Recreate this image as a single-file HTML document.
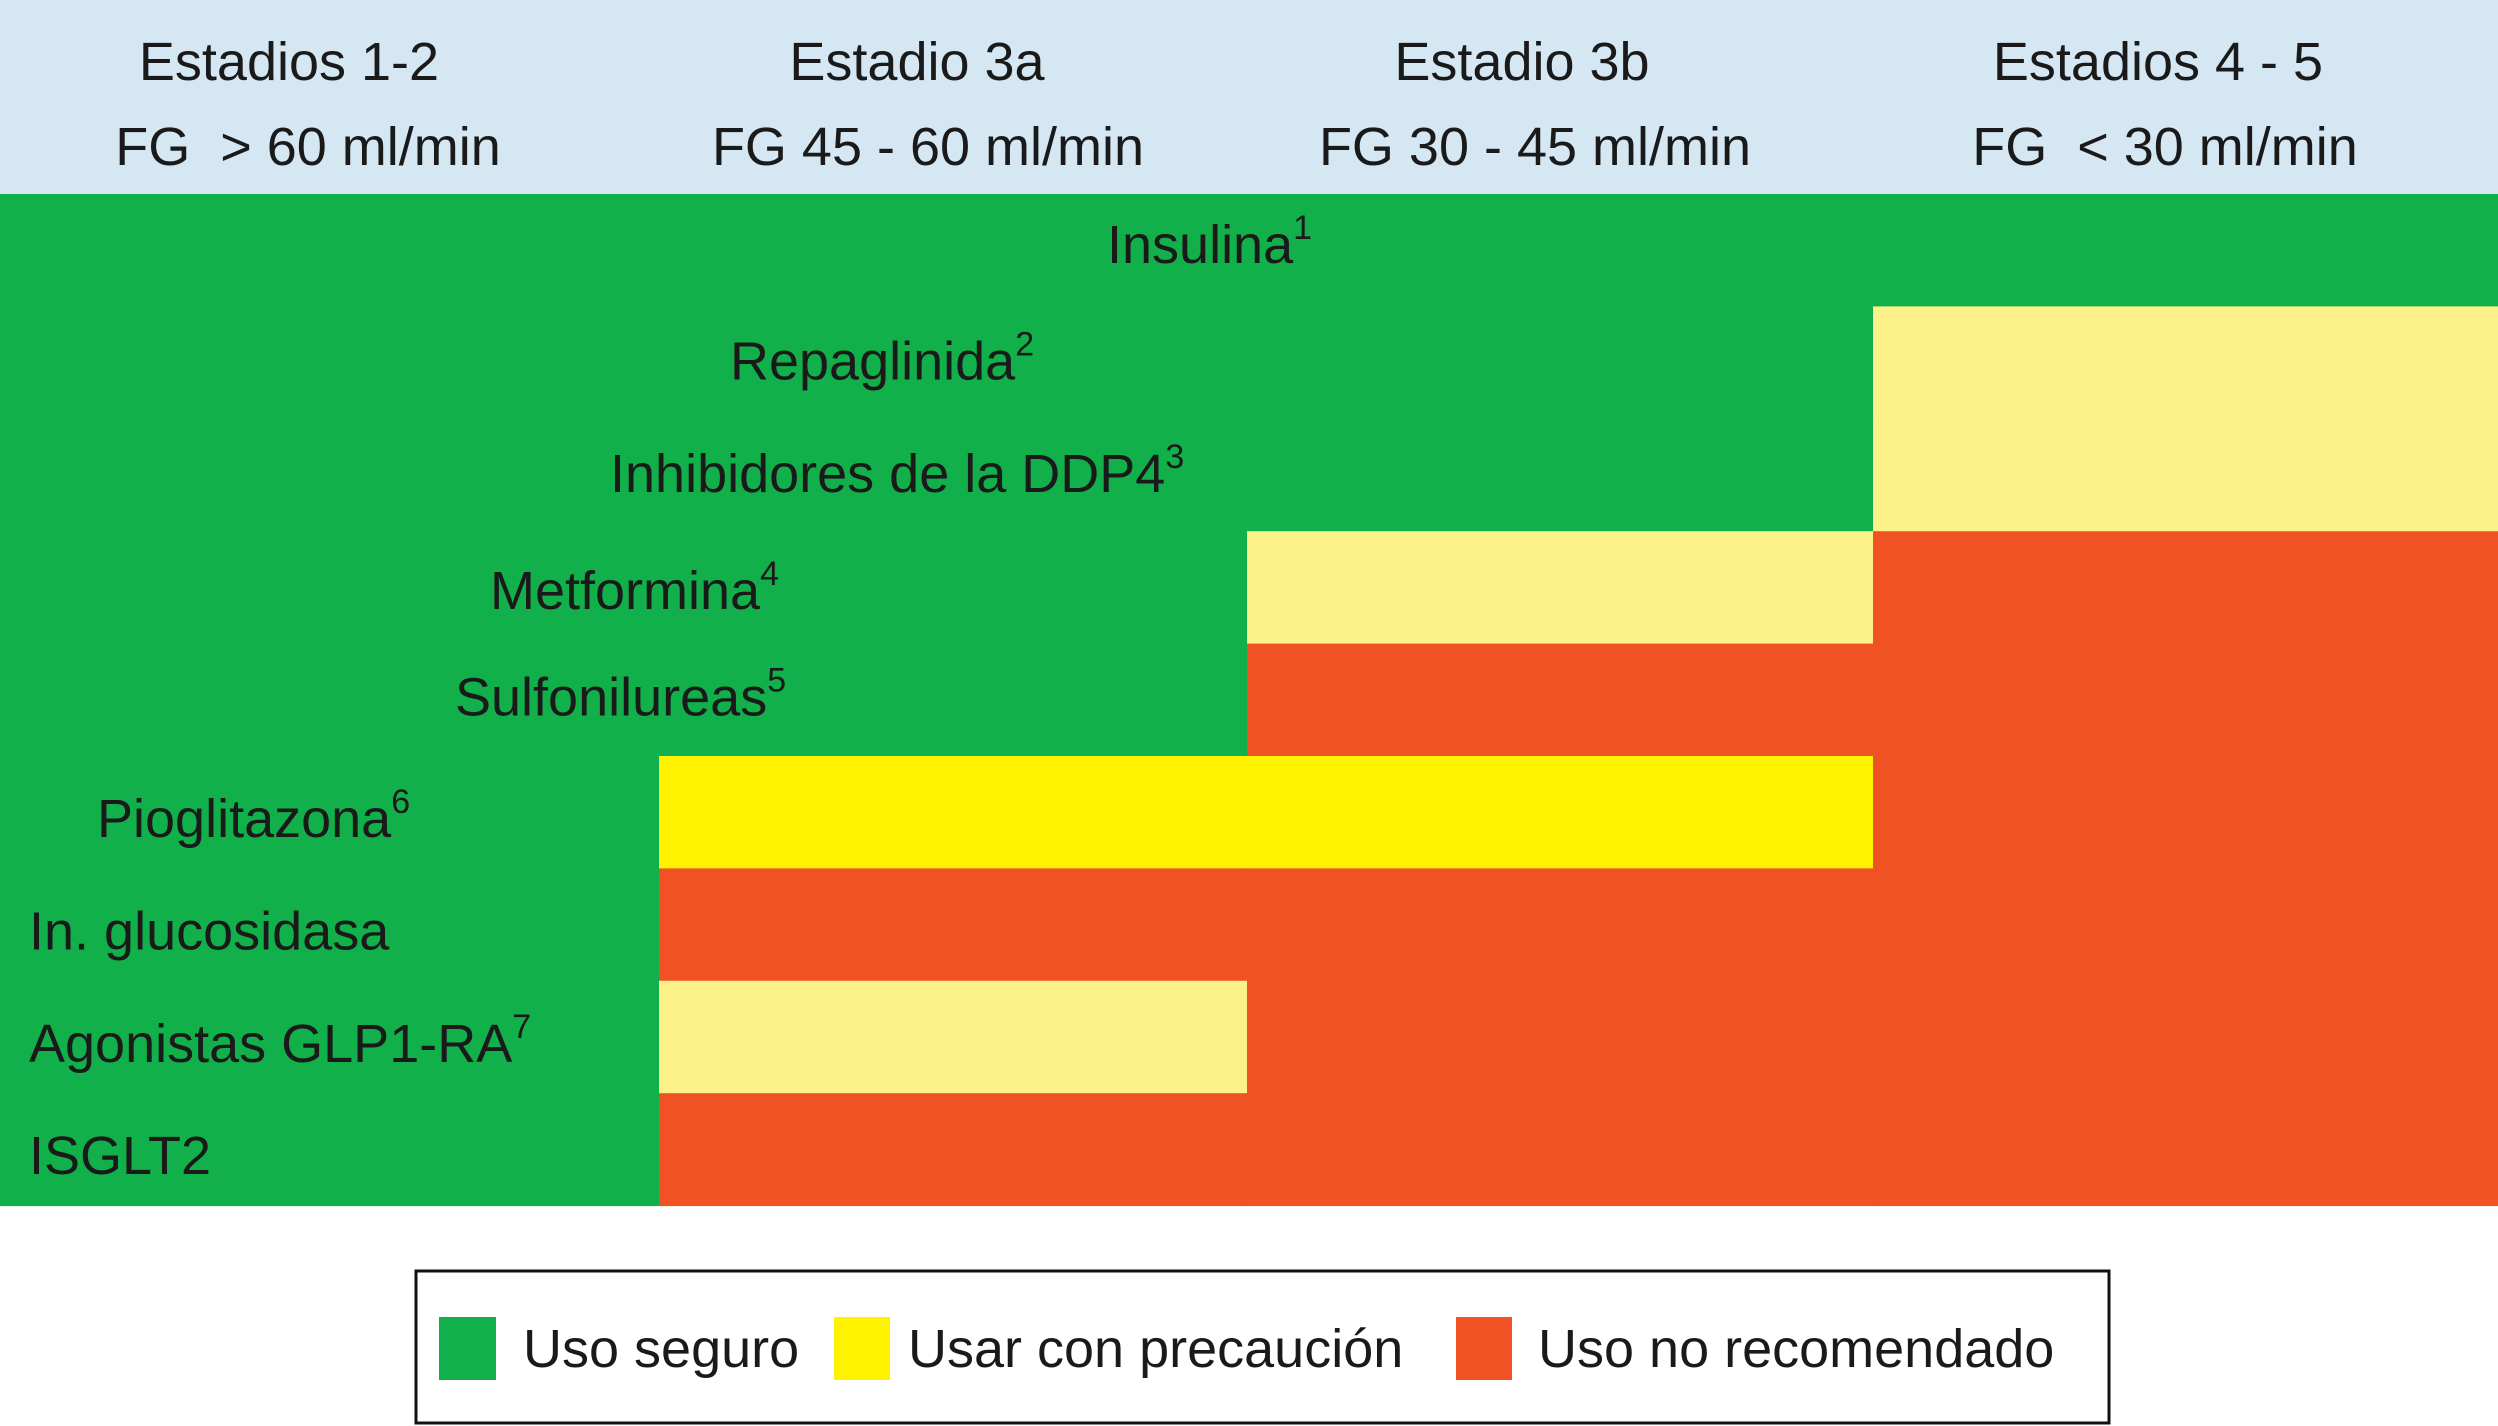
<!DOCTYPE html>
<html><head><meta charset="utf-8"><style>
html,body{margin:0;padding:0;background:#fff;}
svg{display:block;font-family:"Liberation Sans",Arial,sans-serif;}
text{white-space:pre;}
</style></head><body>
<svg id="chart" width="2498" height="1426" viewBox="0 0 2498 1426" xmlns="http://www.w3.org/2000/svg">
<rect x="0" y="0" width="2498" height="194" fill="#d5e7f3"/>
<g id="header"></g>
<g id="cells"></g>
<g id="labels"></g>
<g>
<rect x="416" y="1271" width="1693" height="152" fill="#fff" stroke="#111" stroke-width="3"/>
<rect x="439" y="1317" width="57" height="63" fill="#12b04b"/>
<text x="523" y="1367" font-size="54" fill="#1a1a1a">Uso seguro</text>
<rect x="834" y="1317" width="56" height="63" fill="#fff200"/>
<text x="908" y="1367" font-size="54" fill="#1a1a1a">Usar con precaución</text>
<rect x="1456" y="1317" width="56" height="63" fill="#f05224"/>
<text x="1538" y="1367" font-size="54" fill="#1a1a1a">Uso no recomendado</text>
</g>
</svg>
<script>
const stages = ["Estadios 1-2","Estadio 3a","Estadio 3b","Estadios 4 - 5"];
const stageRanges = ["FG  > 60 ml/min","FG 45 - 60 ml/min","FG 30 - 45 ml/min","FG  < 30 ml/min"];
const drugs = ["Insulina","Repaglinida","Inhibidores de la DDP4","Metformina","Sulfonilureas","Pioglitazona","In. glucosidasa","Agonistas GLP1-RA","ISGLT2"];
const footnotes = ["1","2","3","4","5","6","","7",""];
// G = safe, P = caution (pale), Y = caution, R = not recommended
const statusRows = [
 ["G","G","G","G"],
 ["G","G","G","P"],
 ["G","G","G","P"],
 ["G","G","P","R"],
 ["G","G","R","R"],
 ["G","Y","Y","R"],
 ["G","R","R","R"],
 ["G","P","R","R"],
 ["G","R","R","R"]
];
const NS="http://www.w3.org/2000/svg";
const colors={G:"#12b04b",P:"#fdf28a",Y:"#fff200",R:"#f05224"};
const colEdges=[0,659,1247,1873,2498];
const top0=194, rowH=112.4;
const labelX=[1107,730,610,490,455,97,29,29,29];
const labelDy=[69,73,73,78,72,81,81,81,81];
function xCol(i){return colEdges[i];}
function yRow(r){return top0+r*rowH;}
const hg=document.getElementById('header'), cg=document.getElementById('cells'), lg=document.getElementById('labels');
const h1c=[289,917,1522,2158], h2c=[308,928,1535,2165];
stages.forEach((s,i)=>{
 const t=document.createElementNS(NS,'text');
 
 
 t.setAttribute('x',h1c[i]);t.setAttribute('y',80);t.setAttribute('text-anchor','middle');
 t.setAttribute('font-size','54');t.setAttribute('fill','#1a1a1a');t.textContent=s;hg.appendChild(t);
 const t2=document.createElementNS(NS,'text');
 
 
 t2.setAttribute('x',h2c[i]);t2.setAttribute('y',165);t2.setAttribute('text-anchor','middle');
 t2.setAttribute('font-size','54');t2.setAttribute('fill','#1a1a1a');t2.textContent=stageRanges[i];hg.appendChild(t2);
});
statusRows.forEach((row,r)=>{
 row.forEach((s,c)=>{
  const rc=document.createElementNS(NS,'rect');
  
  
  rc.setAttribute('x',xCol(c));rc.setAttribute('y',yRow(r));
  rc.setAttribute('width',xCol(c+1)-xCol(c)+0.5);rc.setAttribute('height',rowH+0.5);
  rc.setAttribute('fill',colors[s]);cg.appendChild(rc);
 });
 const t=document.createElementNS(NS,'text');
 
 
 t.setAttribute('x',labelX[r]);t.setAttribute('y',yRow(r)+labelDy[r]);
 t.setAttribute('font-size','54');t.setAttribute('fill','#1a1a1a');
 t.appendChild(document.createTextNode(drugs[r]));
 if(footnotes[r]){
  const sp=document.createElementNS(NS,'tspan');
  sp.setAttribute('font-size','34');sp.setAttribute('dy','-24');sp.textContent=footnotes[r];t.appendChild(sp);
 }
 lg.appendChild(t);
});
</script>
</body></html>
